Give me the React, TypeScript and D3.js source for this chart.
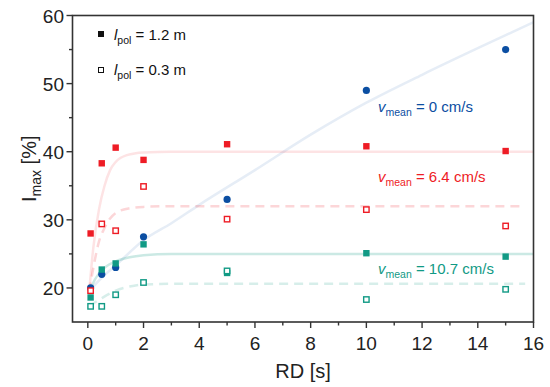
import React from 'react';
import * as d3 from 'd3';

// measured points
const rd = [0.1, 0.5, 1, 2, 5, 10, 15];
const blue0 = [20.0, 22.0, 23.0, 27.5, 33.0, 49.0, 55.0];
const red12 = [28.0, 38.3, 40.6, 38.8, 41.1, 40.8, 40.1];
const red03 = [19.6, 29.4, 28.4, 34.9, 30.1, 31.5, 29.1];
const green12 = [18.6, 22.7, 23.6, 26.4, 22.2, 25.1, 24.6];
const green03 = [17.3, 17.3, 19.0, 20.8, 22.5, 18.3, 19.8];

// fit curves
const fitBlue: [number, number][] = [[0.1, 19.8], [0.5, 21.5], [1, 23.3], [2, 27], [3, 29.5], [4, 32.2], [6, 37.3], [8, 42.5], [10, 47.2], [12, 51.3], [14, 55.2], [16, 59]];
const fitRed12: [number, number][] = [[0.05, 19.5], [0.2, 26], [0.4, 31.5], [0.6, 35], [0.8, 37.3], [1.0, 38.5], [1.4, 39.5], [2, 39.9], [3, 40], [16, 40]];
const fitRed03: [number, number][] = [[0.05, 19.5], [0.2, 23], [0.4, 26.8], [0.6, 28.8], [0.8, 30.2], [1.0, 31], [1.5, 31.7], [2, 31.9], [3, 32], [15.7, 32]];
const fitGreen12: [number, number][] = [[0.05, 19.3], [0.25, 21.2], [0.5, 22.6], [0.75, 23.4], [1, 23.9], [1.5, 24.5], [2, 24.8], [3, 25], [16, 25]];
const fitGreen03: [number, number][] = [[0.05, 17.3], [0.5, 18.5], [1, 19.6], [1.5, 20.2], [2, 20.5], [3, 20.6], [15.7, 20.6]];

const xTicks = [0, 2, 4, 6, 8, 10, 12, 14, 16];
const yTicks = [20, 30, 40, 50, 60];

const BLUE = '#0b4ea2';
const RED = '#ee1c25';
const GREEN = '#119a85';
const FONT = 'Liberation Sans, Arial, sans-serif';

const App = () => {
    const width = 550;
    const height = 387;
    const left = 72.5, right = 533.5, top = 15.5, bottom = 322;

    const x = d3.scaleLinear().domain([-0.55, 16]).range([left, right]);
    const y = d3.scaleLinear().domain([15, 60]).range([bottom, top]);

    const line = d3.line<[number, number]>()
        .x(d => x(d[0]))
        .y(d => y(d[1]))
        .curve(d3.curveMonotoneX);

    const xMinor = d3.range(0, 17, 1).filter(v => v % 2 !== 0);
    const yMinor = [25, 35, 45, 55];

    const filledSquares = (vals: number[], color: string) =>
        vals.map((v, i) => (
            <rect key={i} x={x(rd[i]) - 3.2} y={y(v) - 3.2} width={6.4} height={6.4} fill={color} />
        ));
    const openSquares = (vals: number[], color: string) =>
        vals.map((v, i) => (
            <rect key={i} x={x(rd[i]) - 2.7} y={y(v) - 2.7} width={5.4} height={5.4} fill="#fff" stroke={color} strokeWidth={1.4} />
        ));

    const label = (text: string, sub: string, rest: string, color: string, lx: number, ly: number) => (
        <text x={lx} y={ly} fill={color} fontSize={15} fontFamily={FONT}>
            <tspan fontStyle="italic">{text}</tspan>
            <tspan fontSize={10.5} dy={4}>{sub}</tspan>
            <tspan dy={-4}>{rest}</tspan>
        </text>
    );

    return (
        <svg width={width} height={height} style={{ position: 'fixed', left: 0, top: 0, background: '#fff' }}>
            {/* fit curves */}
            <g fill="none">
                <path d={line(fitBlue) || ''} stroke={BLUE} strokeOpacity={0.1} strokeWidth={2.5} />
                <path d={line(fitRed12) || ''} stroke={RED} strokeOpacity={0.12} strokeWidth={2.5} />
                <path d={line(fitRed03) || ''} stroke={RED} strokeOpacity={0.18} strokeWidth={2.5} strokeDasharray="9,6" />
                <path d={line(fitGreen12) || ''} stroke={GREEN} strokeOpacity={0.22} strokeWidth={2.5} />
                <path d={line(fitGreen03) || ''} stroke={GREEN} strokeOpacity={0.17} strokeWidth={2.5} strokeDasharray="9,6" />
            </g>

            {/* markers */}
            <g>
                {blue0.map((v, i) => (
                    <circle key={i} cx={x(rd[i])} cy={y(v)} r={3.6} fill={BLUE} />
                ))}
                {filledSquares(green12, GREEN)}
                {openSquares(green03, GREEN)}
                {filledSquares(red12, RED)}
                {openSquares(red03, RED)}
            </g>

            {/* frame */}
            <rect x={left} y={top} width={right - left} height={bottom - top} fill="none" stroke="#333" strokeWidth={1.6} />

            {/* ticks */}
            <g stroke="#333" strokeWidth={1.4}>
                {xTicks.map(t => <line key={t} x1={x(t)} x2={x(t)} y1={bottom} y2={bottom + 6} />)}
                {xMinor.map(t => <line key={'m' + t} x1={x(t)} x2={x(t)} y1={bottom} y2={bottom + 3.5} />)}
                {yTicks.map(t => <line key={t} x1={left} x2={left - 6} y1={y(t)} y2={y(t)} />)}
                {yMinor.map(t => <line key={'m' + t} x1={left} x2={left - 3.5} y1={y(t)} y2={y(t)} />)}
            </g>
            <g fontFamily={FONT} fontSize={19} fill="#222">
                {xTicks.map(t => (
                    <text key={t} x={x(t)} y={350} textAnchor="middle">{t}</text>
                ))}
                {yTicks.map(t => (
                    <text key={t} x={64} y={y(t) + 7} textAnchor="end">{t}</text>
                ))}
            </g>

            {/* axis titles */}
            <text x={(left + right) / 2} y={378} textAnchor="middle" fontFamily={FONT} fontSize={20} fill="#222">RD [s]</text>
            <text transform={`translate(36,${(top + bottom) / 2}) rotate(-90)`} textAnchor="middle" fontFamily={FONT} fontSize={20} fill="#222">
                <tspan>I</tspan>
                <tspan fontSize={14} dy={5}>max</tspan>
                <tspan dy={-5}> [%]</tspan>
            </text>

            {/* legend */}
            <rect x={98} y={31} width={6} height={6} fill="#111" />
            <rect x={98.5} y={67.5} width={5} height={5} fill="#fff" stroke="#111" strokeWidth={1} />
            {label('l', 'pol', ' = 1.2 m', '#111', 114, 39.5)}
            {label('l', 'pol', ' = 0.3 m', '#111', 114, 74.5)}

            {/* series labels */}
            {label('v', 'mean', ' = 0 cm/s', BLUE, 378, 112)}
            {label('v', 'mean', ' = 6.4 cm/s', RED, 378, 182)}
            {label('v', 'mean', ' = 10.7 cm/s', GREEN, 378, 274)}
        </svg>
    );
};

export default App;
